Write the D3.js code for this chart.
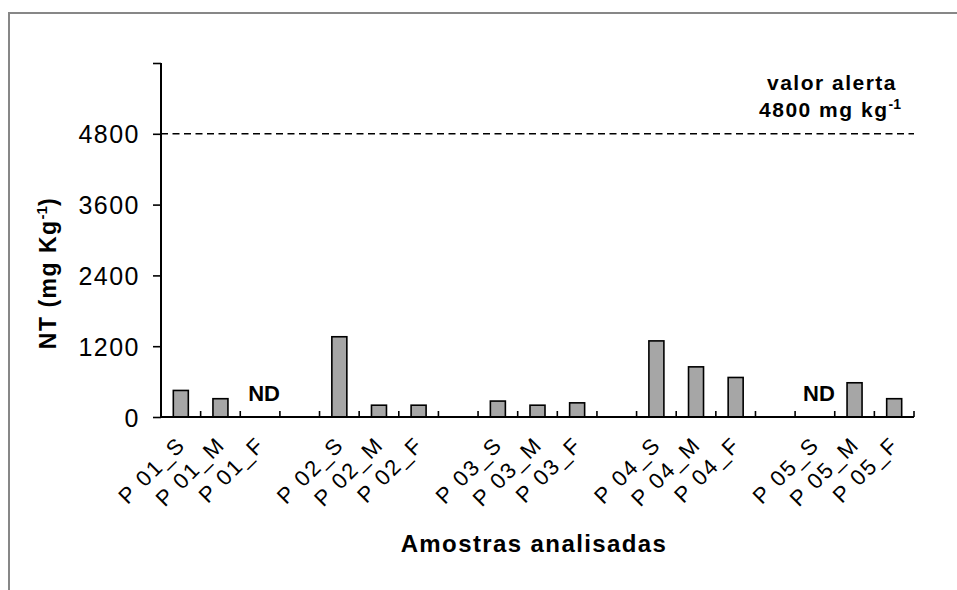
<!DOCTYPE html>
<html>
<head>
<meta charset="utf-8">
<script src="https://cdn.jsdelivr.net/npm/d3@7"></script>
<style>
  html, body { margin: 0; padding: 0; background: #fff; }
  svg { display: block; font-family: "Liberation Sans", Arial, sans-serif; }
</style>
</head>
<body>
<svg id="chart" width="957" height="590"></svg>
<script>
// ---- data ----
const categories = ["P 01_S", "P 01_M", "P 01_F", "gap1",
                    "P 02_S", "P 02_M", "P 02_F", "gap2",
                    "P 03_S", "P 03_M", "P 03_F", "gap3",
                    "P 04_S", "P 04_M", "P 04_F", "gap4",
                    "P 05_S", "P 05_M", "P 05_F"];
const samples = ["P 01_S", "P 01_M", "P 01_F",
                 "P 02_S", "P 02_M", "P 02_F",
                 "P 03_S", "P 03_M", "P 03_F",
                 "P 04_S", "P 04_M", "P 04_F",
                 "P 05_S", "P 05_M", "P 05_F"];
const ntValues = [450, 310, null,
                  1360, 200, 200,
                  270, 200, 240,
                  1290, 850, 670,
                  null, 580, 310];
const yTicks = [0, 1200, 2400, 3600, 4800, 6000];
const yTickLabels = ["0", "1200", "2400", "3600", "4800", ""];
const alertValue = 4800;
const ndLabel = "ND";

// ---- layout ----
const svg = d3.select("#chart");
const x0 = 161, x1 = 914, yTop = 63, yBot = 417;

const x = d3.scaleBand().domain(categories).range([x0, x1]).paddingInner(0).paddingOuter(0);
const y = d3.scaleLinear().domain([0, 6000]).range([yBot, yTop]);

// frame
svg.append("path")
  .attr("d", `M9,${590} L9,13 L${957},13`)
  .attr("fill", "none").attr("stroke", "#878787").attr("stroke-width", 2);

// bars
const data = samples.map((s, i) => ({ cat: s, v: ntValues[i] }));
const bw = 15;
svg.append("g").selectAll("rect")
  .data(data.filter(d => d.v !== null))
  .join("rect")
  .attr("x", d => x(d.cat) + x.bandwidth() / 2 - bw / 2)
  .attr("y", d => y(d.v))
  .attr("width", bw)
  .attr("height", d => y(0) - y(d.v))
  .attr("fill", "#a6a6a6")
  .attr("stroke", "#000")
  .attr("stroke-width", 1.6);

// ND labels
svg.append("g").selectAll("text")
  .data(data.filter(d => d.v === null))
  .join("text")
  .attr("x", d => x(d.cat) + x.bandwidth() / 2 + 4)
  .attr("y", 401)
  .attr("text-anchor", "middle")
  .attr("font-size", 22).attr("font-weight", "bold")
  .text(ndLabel);

// y axis
const yAxis = d3.axisLeft(y).tickValues(yTicks)
  .tickFormat((d, i) => yTickLabels[i]).tickSize(8).tickPadding(13);
const gy = svg.append("g").attr("transform", `translate(${x0},0)`).call(yAxis);
gy.select(".domain").attr("stroke", "#000").attr("stroke-width", 2).attr("d", `M0,${yTop}V${yBot}`);
gy.selectAll(".tick line").attr("stroke", "#000").attr("stroke-width", 1.6);
gy.selectAll(".tick text")
  .attr("font-size", 25).attr("font-family", "Liberation Sans, Arial, sans-serif")
  .attr("letter-spacing", 1.5).attr("fill", "#000").attr("dy", "0.36em");

// x axis line + boundary ticks
const gx = svg.append("g");
gx.append("line").attr("x1", x0).attr("x2", x1).attr("y1", yBot).attr("y2", yBot)
  .attr("stroke", "#000").attr("stroke-width", 2);
gx.selectAll("line.bt")
  .data(categories)
  .join("line").attr("class", "bt")
  .attr("x1", d => x(d) + x.bandwidth()).attr("x2", d => x(d) + x.bandwidth())
  .attr("y1", yBot).attr("y2", yBot - 6)
  .attr("stroke", "#000").attr("stroke-width", 1.6);

// x tick labels (rotated)
gx.selectAll("text.xl")
  .data(samples)
  .join("text").attr("class", "xl")
  .attr("transform", d => `translate(${x(d) + x.bandwidth() / 2 + 6},${446}) rotate(-45)`)
  .attr("text-anchor", "end")
  .attr("font-size", 22).attr("letter-spacing", 2)
  .text(d => d);

// alert line
svg.append("line")
  .attr("x1", x0).attr("x2", x1)
  .attr("y1", y(alertValue)).attr("y2", y(alertValue))
  .attr("stroke", "#000").attr("stroke-width", 1.6)
  .attr("stroke-dasharray", "7,4.5");

// alert label
const al = svg.append("g").attr("font-weight", "bold").attr("font-size", 21)
  .attr("text-anchor", "middle").attr("letter-spacing", 1.5);
al.append("text").attr("x", 832).attr("y", 90).text("valor alerta");
const al2 = al.append("text").attr("x", 830).attr("y", 117);
al2.append("tspan").text("4800 mg kg");
al2.append("tspan").attr("font-size", 14).attr("dy", -8).attr("letter-spacing", 0).text("-1");

// y axis title
const yt = svg.append("text")
  .attr("transform", `translate(56,273) rotate(-90)`)
  .attr("text-anchor", "middle")
  .attr("font-weight", "bold").attr("font-size", 23).attr("letter-spacing", 1.5);
yt.append("tspan").text("NT (mg Kg");
yt.append("tspan").attr("font-size", 15).attr("dy", -9).attr("letter-spacing", 0).text("-1");
yt.append("tspan").attr("dy", 9).text(")");

// x axis title
svg.append("text")
  .attr("x", 534).attr("y", 552)
  .attr("text-anchor", "middle")
  .attr("font-weight", "bold").attr("font-size", 24).attr("letter-spacing", 1.4)
  .text("Amostras analisadas");
</script>
</body>
</html>
